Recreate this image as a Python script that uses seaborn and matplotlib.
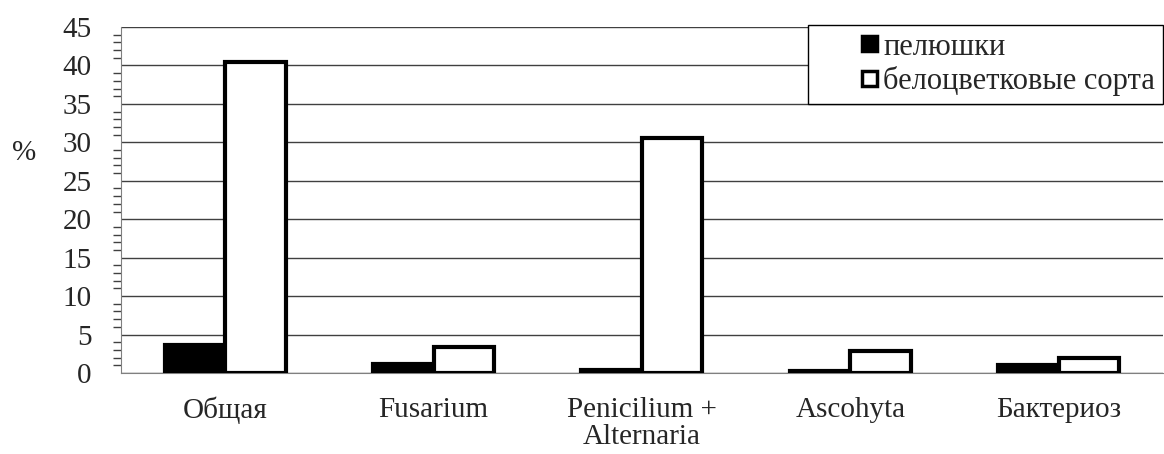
import pandas as pd
import seaborn as sns
import matplotlib.pyplot as plt
from matplotlib.ticker import MultipleLocator
from matplotlib.patches import Rectangle
from matplotlib.legend_handler import HandlerPatch

# data
categories = ['Общая', 'Fusarium', 'Penicilium +\nAlternaria', 'Ascohyta', 'Бактериоз']
peluski = [3.7, 1.2, 0.4, 0.2, 1.1]
white_sorts = [40.5, 3.4, 30.5, 2.8, 2.0]
series_names = ['пелюшки', 'белоцветковые сорта']

df = pd.DataFrame({
    'cat': categories * 2,
    'val': peluski + white_sorts,
    'series': [series_names[0]] * 5 + [series_names[1]] * 5,
})

sns.set_style('white')
plt.rcParams['font.family'] = ['Liberation Serif', 'DejaVu Serif']

fig = plt.figure(figsize=(11.64, 4.54), dpi=100)
ax = fig.add_axes([121 / 1164, 81 / 454, 1 - 121 / 1164 - 0.001, 346 / 454])

sns.barplot(data=df, x='cat', y='val', hue='series', palette=['black', 'white'],
            edgecolor='black', linewidth=3, width=0.58, ax=ax, zorder=3)

ax.set_ylim(0, 45)
ax.set_xlim(-0.5, 4.5)
ax.yaxis.set_major_locator(MultipleLocator(5))
ax.yaxis.set_minor_locator(MultipleLocator(1))
ax.grid(axis='y', color='#404040', linewidth=1, zorder=0)
ax.set_axisbelow(True)

# tick marks on the category boundaries, labels at the centres
ax.set_xticks(range(5))
ax.set_xticklabels(categories, fontsize=21, linespacing=1.05)
ax.set_xticks([i - 0.5 for i in range(6)], minor=True)
ax.tick_params(axis='x', which='major', length=0, pad=17)
ax.tick_params(axis='x', which='minor', length=7, width=1, color='#808080', direction='out')
ax.tick_params(axis='y', which='major', length=8, width=1, color='#404040', labelsize=21, pad=13)
ax.tick_params(axis='y', which='minor', length=5.5, width=1, color='#404040', left=True)

for s in ['top', 'right']:
    ax.spines[s].set_visible(False)
ax.spines['left'].set_color('#808080')
ax.spines['bottom'].set_color('#808080')

ax.set_xlabel('')
ax.set_ylabel('%', rotation=0, fontsize=21, va='center', ha='center')
ax.yaxis.set_label_coords(-0.093, 0.635)


# square marker pushed to the right end of the handle box
def square_right(legend, orig_handle, xdescent, ydescent, width, height, fontsize):
    side = height
    return Rectangle((width - side - xdescent, -ydescent + (height - side) / 2), side, side)


leg = ax.legend(loc='upper right', bbox_to_anchor=(1.0, 1.006), borderaxespad=0,
                fontsize=22, frameon=True, fancybox=False, framealpha=1,
                edgecolor='black', handlelength=2.0, handleheight=0.4,
                handletextpad=0.2, labelspacing=0.15, borderpad=0.25,
                handler_map={Rectangle: HandlerPatch(patch_func=square_right)})
leg.get_frame().set_linewidth(1)
for h in leg.legend_handles:
    h.set_linewidth(2.5)

fig.savefig('out.png', dpi=100)
